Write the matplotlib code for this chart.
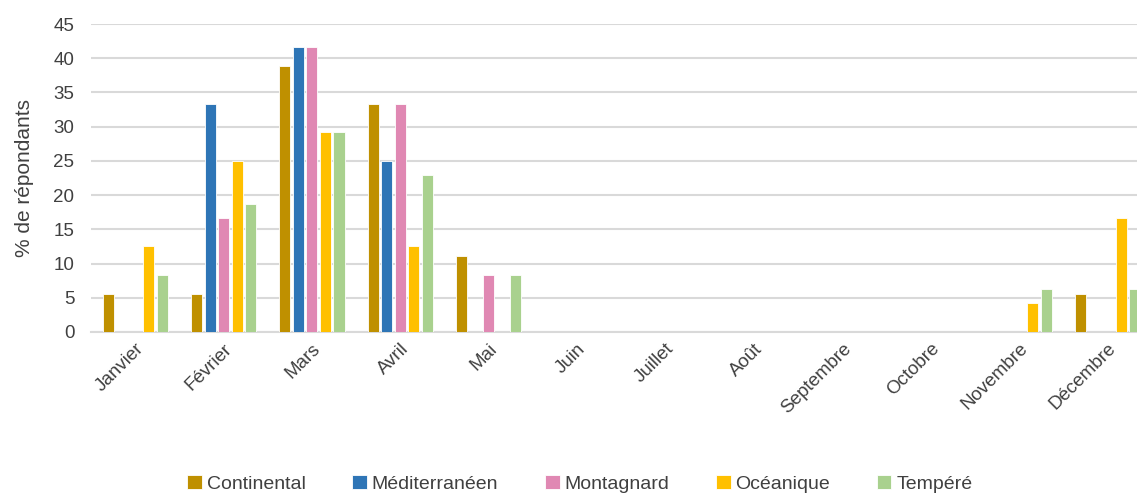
import matplotlib.pyplot as plt
import numpy as np

# Données (% de répondants)
mois = ["Janvier", "Février", "Mars", "Avril", "Mai", "Juin", "Juillet", "Août",
        "Septembre", "Octobre", "Novembre", "Décembre"]
continental = [5.56, 5.56, 38.89, 33.33, 11.11, 0, 0, 0, 0, 0, 0, 5.56]
mediterraneen = [0, 33.33, 41.67, 25.0, 0, 0, 0, 0, 0, 0, 0, 0]
montagnard = [0, 16.67, 41.67, 33.33, 8.33, 0, 0, 0, 0, 0, 0, 0]
oceanique = [12.5, 25.0, 29.17, 12.5, 0, 0, 0, 0, 0, 0, 4.17, 16.67]
tempere = [8.33, 18.75, 29.17, 22.92, 8.33, 0, 0, 0, 0, 0, 6.25, 6.25]

series = [("Continental", continental, "#BF9000"),
          ("Méditerranéen", mediterraneen, "#2E75B6"),
          ("Montagnard", montagnard, "#E088B3"),
          ("Océanique", oceanique, "#FFC000"),
          ("Tempéré", tempere, "#A9D18E")]

plt.rcParams['font.family'] = ['Liberation Sans', 'DejaVu Sans']
fig = plt.figure(figsize=(11.37, 4.93), dpi=100)
# la zone de tracé dépasse à droite (le graphique d'origine est coupé)
ax = fig.add_axes([0.0800, 0.3266, 0.9330, 0.6247])

x = np.arange(len(mois))
step = 0.153
width = 0.125
for i, (nom, vals, col) in enumerate(series):
    ax.bar(x + (i - 2) * step, vals, width, color=col, label=nom,
           edgecolor="white", linewidth=0.6, zorder=3)

ax.set_xlim(-0.5, 11.5)
ax.set_ylim(0, 45)
ax.set_yticks(range(0, 46, 5))
ax.grid(axis='y', color='#D9D9D9', linewidth=1.5, zorder=0)
for s in ["top", "right", "left"]:
    ax.spines[s].set_visible(False)
ax.spines["bottom"].set_color('#D9D9D9')
ax.spines["bottom"].set_linewidth(1.5)
ax.tick_params(axis='both', length=0, labelsize=13.5, labelcolor='#404040')
ax.tick_params(axis='y', pad=12)
ax.tick_params(axis='x', pad=6)
ax.set_xticks(x)
ax.set_xticklabels(mois, rotation=45, ha='right', rotation_mode='anchor')
ax.set_ylabel("% de répondants", fontsize=15, color='#404040', labelpad=14)

fig.legend(loc='lower center', ncol=5, frameon=False, fontsize=14,
           bbox_to_anchor=(0.51, -0.035), handlelength=0.75, handleheight=0.75,
           handletextpad=0.25, columnspacing=2.4, labelcolor='#404040')

fig.savefig("out.png", dpi=100)
